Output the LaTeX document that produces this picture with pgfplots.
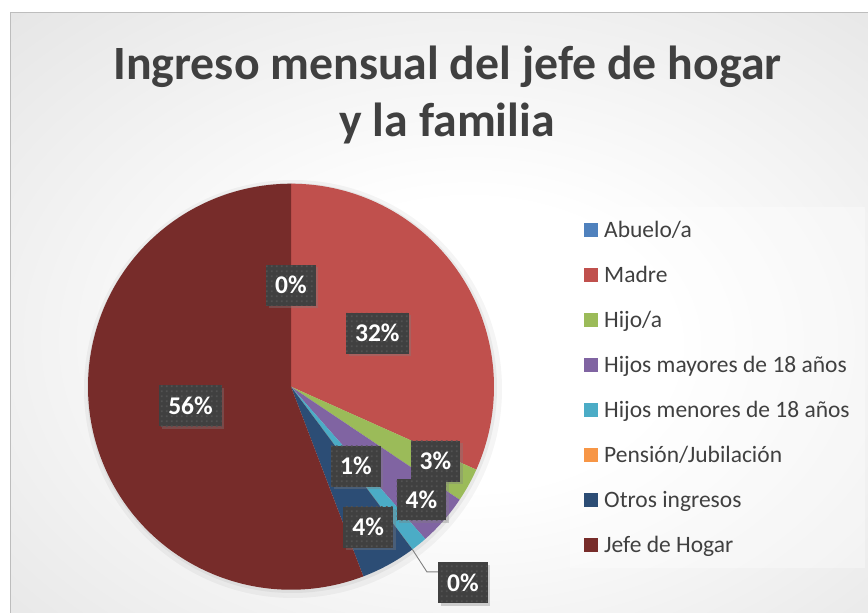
\documentclass[border=0pt]{standalone}
\usepackage{fontspec}
\setmainfont{Carlito}
\usepackage{pgfplots}
\pgfplotsset{compat=1.18}
\usepackage{pgfplotstable}
\usetikzlibrary{patterns.meta,shadows,calc}

\definecolor{cAbuelo}{HTML}{4F81BD}
\definecolor{cMadre}{HTML}{C0504D}
\definecolor{cHijo}{HTML}{9BBB59}
\definecolor{cMay}{HTML}{8064A2}
\definecolor{cMen}{HTML}{4BACC6}
\definecolor{cPen}{HTML}{F79646}
\definecolor{cOtros}{HTML}{2C4D75}
\definecolor{cJefe}{HTML}{772C2A}
\definecolor{txt}{HTML}{404040}
\definecolor{boxc}{HTML}{404040}
\definecolor{dotc}{HTML}{525252}
\definecolor{bgout}{HTML}{C4C4C4}
\definecolor{leadc}{HTML}{7F7F7F}
\definecolor{framec}{HTML}{BDBDBD}

\pgfdeclareradialshading{bgshade}{\pgfpoint{2bp}{-3bp}}{color(0bp)=(white); color(12bp)=(white); color(72bp)=(bgout); color(100bp)=(bgout)}

\tikzdeclarepattern{
  name=sqdots,
  type=uncolored,
  bounding box={(0pt,0pt) and (5pt,5pt)},
  tile size={(5pt,5pt)},
  code={\fill (1pt,1pt) rectangle (3pt,3pt);}
}

\pgfplotstableread[col sep=comma]{
name,value,col,lr,da
Abuelo/a,0,cAbuelo,0.5,0
Madre,31.7,cMadre,0.5,-1.2
Hijo/a,2.7,cHijo,0.80,1.7
Hijos mayores de 18 años,4.1,cMay,0.85,0.3
Hijos menores de 18 años,1.3,cMen,0.505,0.2
Pensión/Jubilación,0,cPen,1.285,4.5
Otros ingresos,4.4,cOtros,0.79,0
Jefe de Hogar,55.8,cJefe,0.504,0.3
}\piedata

\tikzset{
  lbl/.style={fill=boxc, postaction={pattern={sqdots}, pattern color=dotc},
    text=white, font=\bfseries\fontsize{25.5}{25.5}\selectfont,
    inner xsep=9pt, inner ysep=0pt, minimum height=41pt,
    drop shadow={shadow xshift=2.5pt, shadow yshift=-2.5pt, opacity=0.35}}
}

\begin{document}
\begin{tikzpicture}
\path[use as bounding box] (0,0) rectangle (868pt,613pt);
\fill[white] (0,0) rectangle (868pt,613pt);
\shade[shading=bgshade] (10pt,0pt) rectangle (868pt,600pt);
\draw[framec, line width=1pt] (10.5pt,0pt) -- (10.5pt,600pt) -- (868pt,600pt);

% title
\node[anchor=base, text=txt, font=\bfseries\fontsize{47.8}{47.8}\selectfont] at (447.5pt,533pt) {Ingreso mensual del jefe de hogar};
\node[anchor=base, text=txt, font=\bfseries\fontsize{47.8}{47.8}\selectfont] at (447pt,476pt) {y la familia};

% legend background
\fill[white, opacity=0.35] (570pt,45pt) rectangle (865pt,406pt);

% soft pie shadow
\fill[black, opacity=0.04] (293pt,224pt) circle (209pt);
\fill[black, opacity=0.05] (292pt,225pt) circle (205pt);

\begin{axis}[at={(291pt,226.3pt)}, anchor=origin, scale only axis,
  width=406pt, height=406pt, xmin=-1, xmax=1, ymin=-1, ymax=1,
  hide axis, clip=false]
  \def\astart{90}
  \pgfplotsforeachungrouped \i in {0,...,7}{%
    \pgfplotstablegetelem{\i}{value}\of\piedata \let\v=\pgfplotsretval
    \pgfplotstablegetelem{\i}{col}\of\piedata \let\c=\pgfplotsretval
    \pgfmathsetmacro{\aend}{\astart-3.6*\v}%
    \edef\temp{\noexpand\fill[\c] (axis cs:0,0) -- (axis cs:{cos(\astart)},{sin(\astart)}) arc[start angle=\astart, end angle=\aend, radius=203pt] -- cycle;}%
    \temp
    \let\astart=\aend
  }
  \def\astart{90}
  \pgfplotsforeachungrouped \i in {0,...,7}{%
    \pgfplotstablegetelem{\i}{value}\of\piedata \let\v=\pgfplotsretval
    \pgfplotstablegetelem{\i}{lr}\of\piedata \let\lr=\pgfplotsretval
    \pgfplotstablegetelem{\i}{da}\of\piedata \let\da=\pgfplotsretval
    \pgfmathsetmacro{\medge}{\astart-1.8*\v}%
    \pgfmathsetmacro{\lx}{\lr*cos(\medge+\da)}%
    \pgfmathsetmacro{\ly}{\lr*sin(\medge+\da)}%
    \pgfmathtruncatemacro{\lab}{round(\v)}%
    \pgfmathtruncatemacro{\outside}{\lr>1 ? 1 : 0}%
    \edef\temp{\noexpand\node[lbl] (L\i) at (axis cs:\lx,\ly) {\lab\%};}%
    \temp
    \ifnum\outside=1
      \edef\temp{\noexpand\draw[leadc, line width=0.9pt] (axis cs:{cos(\medge)},{sin(\medge)}) -- ([xshift=-11pt,yshift=11pt]L\i.west) -- ([yshift=11pt]L\i.west);}%
      \temp
    \fi
    \pgfmathsetmacro{\astart}{\astart-3.6*\v}%
  }
\end{axis}

% legend
\foreach \i in {0,...,7}{
  \pgfplotstablegetelem{\i}{name}\of\piedata \let\nm=\pgfplotsretval
  \pgfplotstablegetelem{\i}{col}\of\piedata \let\c=\pgfplotsretval
  \pgfmathsetmacro{\yy}{383-45*\i}
  \pgfmathsetmacro{\ya}{\yy-7}
  \pgfmathsetmacro{\yb}{\yy+7}
  \pgfmathsetmacro{\yt}{\yy-7.8}
  \fill[\c] (584pt,\ya pt) rectangle (598pt,\yb pt);
  \node[anchor=base west, inner sep=0pt, text=txt, font=\fontsize{23.5}{23.5}\selectfont] at (604pt,\yt pt) {\nm};
}
\end{tikzpicture}
\end{document}
